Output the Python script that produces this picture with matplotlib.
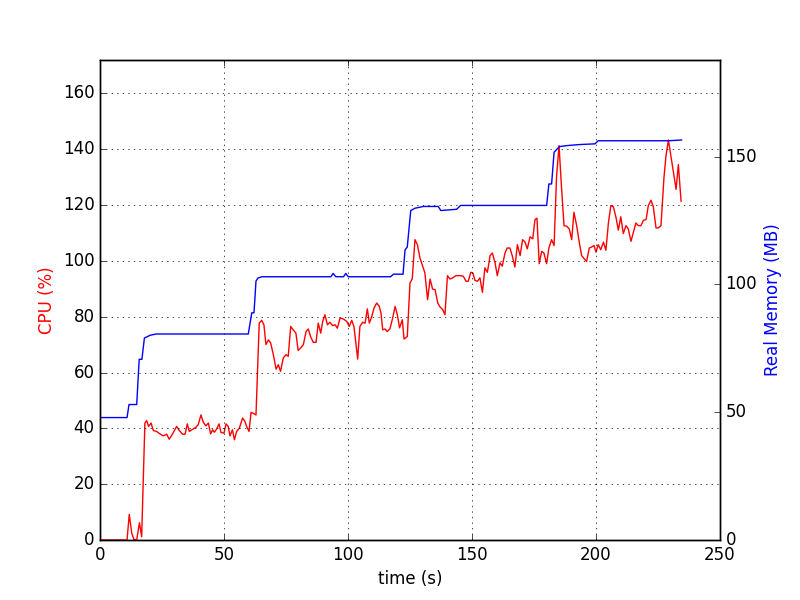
import matplotlib
matplotlib.use("Agg")
import matplotlib.pyplot as plt

plt.style.use("classic")

# CPU usage samples (time in s, percent)
cpu_time = [0, 10.9, 11.8, 12.8, 13.7, 14.8, 15.9, 16.8, 18.1, 18.8, 19.6, 20.6, 21.5, 22.8,
            24.2, 25.5, 26.9, 27.9, 29.2, 30.9, 32.0, 33.3, 34.3, 35.2, 36.0, 37.4, 38.7, 39.6,
            40.7, 41.7, 42.7, 43.7, 44.6, 45.4, 46.1, 47.0, 48.0, 48.8, 50.0, 50.8, 51.7, 52.4,
            53.4, 54.2, 55.1, 56.2, 57.5, 58.5, 59.1, 60.1, 60.9, 61.8, 62.9, 64.2, 65.2, 66.1,
            66.9, 67.9, 68.8, 69.9, 71.0, 71.9, 72.8, 73.9, 75.0, 75.9, 76.9, 77.9, 79.0, 79.9,
            80.9, 82.0, 83.1, 84.0, 84.9, 86.0, 87.1, 88.0, 89.0, 89.8, 90.7, 91.7, 92.7, 93.8,
            94.8, 95.7, 96.8, 98.1, 99.5, 100.5, 101.5, 102.4, 103.9, 104.8, 105.9, 106.9, 107.8,
            108.6, 109.6, 110.5, 111.6, 112.6, 113.3, 114.0, 114.9, 115.8, 116.9, 118.0, 119.0,
            119.9, 120.8, 121.9, 122.6, 123.9, 125.0, 125.9, 127.0, 128.0, 129.0, 130.1, 131.0,
            132.1, 133.1, 134.1, 135.1, 136.2, 137.1, 138.2, 139.1, 140.1, 141.1, 142.2, 143.5,
            145.2, 146.5, 147.6, 148.5, 149.5, 150.3, 151.2, 152.2, 153.2, 154.2, 155.2, 156.2,
            157.3, 158.2, 159.3, 160.2, 161.3, 162.2, 163.3, 164.2, 165.3, 166.3, 167.3, 168.3,
            169.4, 170.4, 171.4, 172.3, 173.4, 174.5, 175.4, 176.2, 177.1, 178.1, 179.0, 180.1,
            181.0, 182.1, 183.1, 184.1, 185.1, 185.9, 187.1, 188.2, 189.2, 190.2, 191.1, 192.2,
            193.3, 194.2, 195.3, 196.2, 197.3, 198.3, 199.2, 200.0, 200.9, 201.9, 203.0, 204.0,
            205.0, 206.0, 207.0, 208.1, 209.0, 210.0, 211.0, 212.1, 213.0, 214.1, 215.0, 216.1,
            217.1, 218.1, 219.1, 220.2, 221.1, 222.2, 223.1, 224.2, 225.1, 226.2, 227.4, 228.2,
            229.2, 230.1, 231.2, 232.3, 233.2, 234.3]
cpu_pct = [0, 0, 9.2, 2.4, 0.2, 0, 6.2, 1.2, 41.9, 42.8, 40.7, 41.9, 39.2, 38.9,
           38.0, 37.3, 37.9, 36.1, 37.9, 40.7, 39.2, 37.9, 37.9, 41.6, 38.9, 39.7, 40.4, 41.3,
           44.8, 42.1, 40.9, 41.9, 38.0, 39.5, 38.6, 39.7, 41.6, 38.5, 38.3, 41.6, 40.7, 37.3,
           39.5, 35.9, 38.9, 40.1, 43.7, 42.4, 40.7, 38.9, 45.7, 45.4, 44.8, 77.7, 78.7, 77.1,
           70.0, 71.7, 70.6, 66.4, 61.2, 62.8, 60.4, 65.2, 66.4, 65.8, 76.5, 75.3, 74.1, 67.9,
           68.8, 70.0, 74.7, 75.6, 72.9, 70.8, 70.8, 77.7, 74.1, 78.3, 80.7, 77.1, 78.0, 76.8,
           77.1, 75.9, 79.5, 79.2, 78.3, 76.5, 78.7, 76.5, 64.8, 76.5, 78.0, 77.7, 82.8,
           77.7, 80.1, 83.1, 84.9, 83.7, 81.3, 75.3, 75.6, 74.7, 75.6, 79.5, 83.7,
           80.7, 76.0, 78.9, 72.0, 72.9, 92.1, 93.5, 107.6, 105.8, 101.1, 98.1, 95.7,
           86.1, 93.5, 89.9, 89.7, 84.9, 83.5, 82.5, 80.7, 94.7, 93.5, 93.9, 94.7,
           94.7, 94.5, 92.7, 92.7, 95.9, 95.7, 93.0, 92.7, 93.9, 88.7, 97.5, 95.9,
           101.9, 102.8, 99.3, 94.7, 99.3, 98.1, 102.8, 104.6, 104.6, 101.6, 97.8, 105.8,
           101.9, 107.6, 106.7, 104.3, 108.6, 107.9, 114.8, 115.3, 99.0, 103.4, 102.8, 99.0,
           104.6, 107.6, 105.5, 130.3, 141.3, 129.1, 112.6, 112.4, 111.5, 107.6, 117.4, 112.6,
           106.4, 101.9, 100.7, 99.8, 104.6, 105.0, 105.5, 103.1, 105.8, 104.0, 106.7, 103.8,
           113.6, 119.8, 119.4, 115.4, 111.0, 115.8, 109.8, 112.6, 111.5, 107.0, 110.0, 113.6,
           112.6, 112.6, 114.5, 114.8, 119.8, 121.7, 119.4, 111.8, 111.8, 112.6, 129.8, 137.5,
           143.3, 138.1, 131.5, 125.6, 134.5, 121.4]

# resident memory (time in s, MB)
mem_time = [0, 10.9, 11.7, 14.8, 15.8, 16.9, 17.9, 20.2, 22.6, 59.8, 61.2, 62.1, 62.9, 63.7,
            65.3, 93.1, 94.0, 95.1, 98.2, 99.1, 100.1, 117.2, 118.3, 122.2, 123.0, 123.9,
            125.3, 127.0, 130.4, 136.4, 137.4, 143.8, 145.4, 180.1, 181.0, 182.1, 183.1,
            185.2, 188.2, 193.0, 199.6, 200.9, 229.2, 234.5]
mem_mb = [47.9, 47.9, 53.0, 53.0, 70.7, 70.7, 79.0, 80.1, 80.6, 80.6, 88.9, 88.9, 101.3, 102.5,
          103.0, 103.0, 104.3, 103.0, 103.0, 104.3, 103.0, 103.0, 104.0, 104.0, 113.5, 114.6,
          128.9, 129.8, 130.5, 130.5, 128.9, 129.4, 130.9, 130.9, 139.3, 139.3, 151.7,
          153.9, 154.3, 154.7, 155.0, 156.2, 156.2, 156.5]

fig, ax1 = plt.subplots(figsize=(8, 6), dpi=100)
fig.patch.set_facecolor("white")

ax1.plot(cpu_time, cpu_pct, color="r")
ax1.set_xlabel("time (s)")
ax1.set_ylabel("CPU (%)", color="r")
ax1.set_ylim(0, max(cpu_pct) * 1.2)
ax1.set_xlim(0, 250)
ax1.grid(True)

ax2 = ax1.twinx()
ax2.plot(mem_time, mem_mb, color="b")
ax2.set_ylabel("Real Memory (MB)", color="b")
ax2.set_ylim(0, max(mem_mb) * 1.2)
ax2.set_xlim(0, 250)

fig.savefig("out.png", dpi=100, facecolor="white")
